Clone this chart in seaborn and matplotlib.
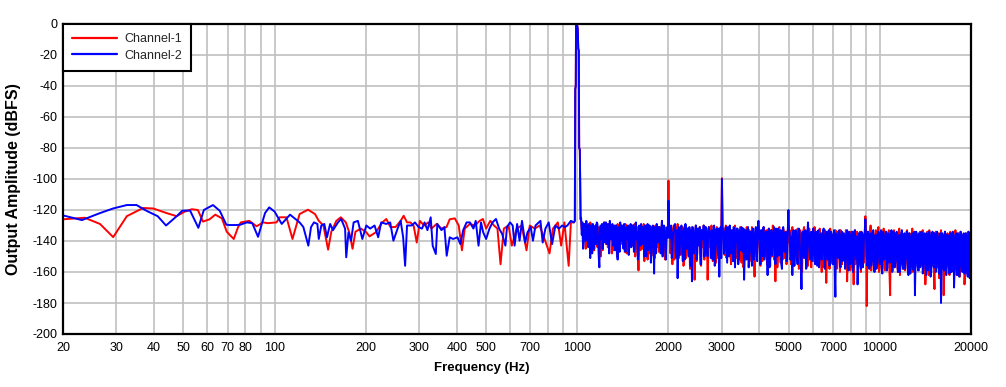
import numpy as np
import pandas as pd
import matplotlib
matplotlib.use("Agg")
import matplotlib.pyplot as plt
import seaborn as sns

# ---------------- data ----------------
# Channel-1 (red), low/mid frequency part: (Hz, dBFS)
ch1_low_freq = [20, 23.6, 26.5, 29.3, 32.5, 36.8, 39.7, 44, 47.5, 50.5, 53.3, 55.8, 58, 61, 63.7,
                67, 69.5, 73.3, 75.8, 77.4, 82.5, 87.2, 91.7, 95, 101.5, 104, 109.5, 114.6, 121,
                129, 136, 140, 145, 150.3, 154, 160, 165.5, 172, 176.5, 181, 185, 193, 201, 206,
                216, 227, 234, 241.5, 251, 261, 267, 274, 281, 288, 295, 302, 312, 322, 330, 343,
                356, 370, 379, 394, 406, 416, 425, 442, 459, 476, 488, 500, 516, 531, 545, 558,
                572, 593, 608, 631, 655, 680, 697, 724, 751, 780, 810, 831, 863, 885, 907, 937,
                953, 975]
ch1_low_db = [-126, -125, -129, -137.5, -124, -118.7, -119, -122, -124, -121, -119.5, -120, -127.5,
              -126, -123, -125.4, -134, -138.7, -131, -128, -127, -130.5, -128, -128.5, -128,
              -124.7, -124.7, -138.7, -122.6, -119.8, -122.6, -127, -130, -145.6, -134, -127,
              -124.7, -128, -134.4, -145, -134, -132, -134.4, -137, -134.4, -128, -125.8, -131,
              -131, -127, -123.7, -128, -128, -130, -141, -127, -130, -128, -132, -129, -132,
              -131, -126, -125.4, -130, -146, -132, -129, -130, -127, -125.8, -132, -127, -130,
              -132, -155, -132, -130, -143, -132, -130, -146, -130, -132, -130, -138.7, -148,
              -132, -128, -143, -128, -156, -128, -128]

# Channel-2 (blue), low/mid frequency part
ch2_low_freq = [20, 23.1, 26.5, 29.3, 32.5, 35, 37.9, 41.1, 43.8, 47.5, 49.6, 52.6, 56, 58.4, 62.6,
                65.9, 69.3, 71, 74.5, 77, 81, 84.4, 88.2, 93, 96, 100, 105.6, 112.5, 121, 124.5,
                129.3, 132, 135, 138.5, 140, 142.7, 146, 149, 152.6, 156, 162, 166, 171, 172.5,
                175.5, 179, 182.5, 188.5, 195, 201, 207, 214, 220, 225, 234, 241, 247, 255, 261,
                266, 270, 274, 284, 291, 299, 307, 313, 320, 328, 333, 341, 345, 356, 364, 370.5,
                379, 389, 402, 411, 420, 431, 442, 454, 462, 472, 481, 489, 500, 513, 525, 539,
                552, 565, 579, 586, 600, 612, 621, 633, 645, 657, 673, 685, 702, 714, 728, 756,
                769, 785, 805, 826, 847, 870, 892, 911, 928, 953, 975]
ch2_low_db = [-123.5, -126.5, -122, -119, -116.8, -116.8, -120.7, -124, -130, -124, -120.4, -120.4,
              -131.5, -120, -116.8, -120.5, -129.5, -129.7, -129.7, -129.5, -128, -128.5, -137.3,
              -122, -118.3, -121, -129, -123, -128, -131, -143, -131, -128, -129, -138.7, -130,
              -129, -137.6, -129, -133, -128, -125.8, -132, -150.5, -134.4, -139.8, -128, -127,
              -138.7, -130, -132, -130, -137.6, -128, -129, -128, -139.8, -132, -127, -137.6, -156,
              -130, -130, -128, -131, -132, -128, -133, -124.7, -143, -148.4, -129, -133, -131,
              -149.5, -137.6, -138.7, -137.6, -142, -133, -128, -128, -132, -127, -143, -128,
              -134.4, -138.7, -132, -128, -125.8, -132, -135.5, -143, -131, -128, -130, -143, -129,
              -139.8, -127, -141, -134.4, -131, -139.8, -130, -127, -141, -132, -128, -142, -130,
              -132, -130, -131, -130, -127, -128]

# 1 kHz test tone
peak_freq = [982, 985, 989, 991, 995, 1000, 1004, 1008, 1012, 1015, 1020, 1026]
ch1_peak_db = [-127, -42, -40, -1.2, -0.5, -1.0, -3, -16, -17, -80, -81, -126]
ch2_peak_db = [-127, -42, -40, -1.2, -0.5, -1.0, -3, -16, -17, -80, -81, -126]

# Noise floor above the tone, 1030 Hz .. 20 kHz (log-spaced bins, even bins)
ch1_high_db = [
    -127, -131, -139, -129, -134, -143, -130, -128, -137, -130, -146, -131, -129, -140, -132, -150, -130, -135, -128, -142,
    -131, -129, -138, -132, -130, -146, -131, -136, -129, -144, -132, -130, -141, -133, -129, -148, -131, -137, -130, -143,
    -132, -129, -147, -131, -159, -133, -130, -145, -129, -138, -132, -152, -130, -136, -131, -149, -133, -130, -144, -131,
    -139, -133, -127, -146, -131, -150, -132, -101, -137, -131, -155, -130, -145, -133, -129, -151, -132, -140, -131, -153,
    -130, -147, -132, -136, -150, -131, -143, -165, -130, -148, -133, -131, -156, -134, -130, -146, -132, -165, -131, -144,
    -130, -153, -132, -147, -131, -151, -133, -138, -99.5, -132, -149, -130, -145, -134, -131, -155, -133, -148, -130, -151,
    -133, -146, -131, -154, -132, -149, -134, -131, -150, -133, -147, -131, -152, -163, -132, -148, -130, -145, -134, -153,
    -131, -150, -133, -147, -132, -156, -134, -130, -152, -166, -133, -148, -131, -154, -135, -132, -151, -134, -149, -130,
    -133, -155, -131, -150, -134, -147, -132, -158, -133, -151, -135, -131, -149, -134, -156, -132, -150, -135, -153, -131,
    -148, -134, -155, -132, -151, -135, -157, -133, -167, -134, -150, -132, -154, -136, -148, -133, -158, -134, -152, -133,
    -155, -135, -150, -133, -166, -136, -153, -134, -157, -168, -133, -151, -135, -156, -134, -149, -136, -154, -124, -182,
    -134, -155, -130, -152, -135, -158, -133, -150, -131, -157, -134, -153, -132, -159, -135, -151, -133, -175, -134, -156,
    -133, -154, -135, -160, -132, -151, -134, -158, -136, -153, -133, -161, -135, -155, -132, -157, -134, -152, -136, -159,
    -134, -156, -133, -160, -168, -135, -154, -133, -159, -136, -152, -171, -134, -157, -135, -161, -133, -155, -175, -134,
    -158, -135, -153, -134, -160, -136, -156, -133, -162, -135, -157, -134, -159, -136, -168, -135, -161, -134, -157, -135,
]
# ... and the bins lying between them (odd bins)
ch1_high_db_odd = [
    -133, -140, -131, -145, -130, -136, -142, -129, -147, -133, -138, -130, -144, -131, -139, -133, -146, -129, -135, -131,
    -144, -131, -135, -148, -132, -139, -130, -150, -133, -137, -142, -131, -134, -147, -130, -138, -145, -132, -140, -130,
    -137, -150, -132, -140, -135, -146, -131, -138, -153, -130, -143, -133, -148, -131, -140, -134, -151, -132, -137, -147,
    -131, -144, -136, -133, -152, -135, -132, -134, -148, -134, -139, -152, -131, -146, -136, -133, -149, -131, -156, -134,
    -151, -133, -142, -158, -132, -147, -135, -140, -153, -132, -137, -149, -133, -144, -152, -131, -140, -150, -135, -132,
    -148, -133, -140, -154, -134, -137, -150, -131, -135, -146, -133, -151, -132, -140, -148, -134, -137, -152, -133, -144,
    -139, -152, -134, -143, -157, -133, -141, -151, -135, -137, -153, -134, -145, -136, -150, -132, -140, -156, -133, -138,
    -147, -134, -155, -136, -143, -133, -150, -138, -135, -140, -157, -134, -146, -137, -152, -134, -143, -155, -133, -141,
    -148, -136, -139, -156, -134, -152, -137, -144, -135, -160, -133, -147, -138, -152, -135, -141, -157, -134, -146, -137,
    -139, -153, -136, -147, -160, -134, -145, -138, -152, -136, -158, -135, -144, -139, -155, -134, -147, -137, -160, -135,
    -146, -138, -157, -135, -150, -137, -159, -136, -145, -139, -155, -134, -148, -138, -160, -135, -151, -137, -134, -150,
    -145, -138, -159, -134, -148, -137, -155, -136, -160, -135, -150, -138, -157, -134, -146, -137, -161, -136, -152, -138,
    -150, -137, -157, -135, -162, -138, -149, -136, -159, -134, -155, -138, -152, -136, -160, -135, -147, -138, -157, -136,
    -151, -138, -158, -136, -155, -134, -162, -137, -150, -139, -157, -135, -153, -138, -164, -136, -150, -137, -159, -137,
    -149, -138, -162, -135, -154, -137, -159, -136, -151, -138, -163, -135, -155, -137, -160, -136, -152, -138, -162,
]
ch2_high_db = [
    -125, -128, -141, -130, -127, -136, -129, -151, -131, -129, -145, -130, -128, -138, -157, -130, -129, -137, -131, -128,
    -142, -130, -127, -139, -129, -133, -146, -130, -152, -131, -128, -140, -132, -129, -147, -131, -130, -143, -129, -136,
    -130, -145, -128, -134, -149, -131, -129, -142, -133, -130, -150, -129, -137, -131, -146, -130, -161, -132, -129, -141,
    -131, -148, -127, -139, -132, -152, -131, -114, -138, -130, -147, -133, -129, -151, -164, -131, -140, -130, -153, -132,
    -129, -145, -134, -131, -156, -166, -132, -143, -130, -149, -133, -131, -155, -135, -130, -147, -132, -150, -131, -138,
    -133, -152, -130, -144, -132, -149, -163, -131, -100, -134, -146, -131, -154, -133, -130, -148, -135, -131, -157, -133,
    -132, -150, -134, -131, -147, -165, -133, -152, -131, -145, -134, -156, -132, -148, -131, -153, -127, -141, -133, -150,
    -131, -146, -134, -162, -132, -151, -133, -144, -131, -155, -135, -132, -149, -133, -158, -131, -147, -134, -152, -120,
    -135, -150, -162, -133, -148, -134, -155, -132, -149, -171, -134, -151, -133, -157, -128, -146, -135, -153, -132, -149,
    -134, -156, -133, -150, -135, -148, -132, -158, -134, -152, -133, -147, -135, -155, -133, -176, -136, -151, -133, -157,
    -134, -150, -136, -154, -133, -159, -135, -149, -134, -156, -133, -152, -168, -135, -153, -134, -157, -136, -126, -150,
    -134, -158, -135, -152, -133, -160, -136, -151, -134, -155, -133, -161, -135, -149, -134, -157, -136, -153, -133, -159,
    -135, -152, -134, -160, -136, -155, -133, -158, -135, -150, -134, -162, -136, -154, -135, -159, -175, -134, -156, -135,
    -157, -134, -161, -136, -153, -135, -159, -134, -163, -136, -155, -135, -160, -134, -157, -136, -180, -135, -158, -134,
    -162, -136, -156, -135, -160, -134, -170, -136, -158, -135, -163, -134, -157, -136, -161, -135, -159, -134, -164, -136,
]
ch2_high_db_odd = [
    -136, -145, -129, -140, -131, -144, -133, -130, -148, -135, -131, -142, -129, -150, -134, -139, -145, -128, -141, -133,
    -129, -148, -134, -131, -143, -130, -137, -144, -132, -147, -134, -130, -145, -136, -133, -139, -149, -132, -144, -130,
    -147, -131, -139, -152, -130, -143, -135, -131, -150, -137, -132, -146, -130, -154, -133, -141, -131, -148, -136, -131,
    -142, -133, -150, -130, -145, -134, -138, -132, -131, -151, -135, -130, -147, -133, -141, -149, -131, -144, -134, -152,
    -136, -132, -150, -141, -133, -131, -148, -135, -152, -132, -143, -155, -133, -139, -150, -131, -145, -134, -137, -151,
    -145, -131, -156, -133, -140, -132, -136, -151, -132, -148, -134, -143, -131, -150, -136, -133, -153, -135, -145, -132,
    -155, -133, -146, -135, -132, -150, -137, -133, -157, -134, -147, -133, -152, -136, -144, -132, -134, -155, -137, -132,
    -152, -135, -141, -133, -157, -134, -149, -136, -143, -132, -150, -137, -134, -155, -133, -146, -135, -153, -133, -134,
    -152, -137, -134, -156, -133, -149, -138, -134, -153, -136, -147, -134, -158, -135, -137, -152, -134, -148, -136, -155,
    -146, -134, -157, -136, -152, -134, -150, -137, -148, -135, -156, -134, -151, -137, -159, -135, -149, -134, -155, -137,
    -153, -135, -158, -137, -150, -134, -155, -136, -160, -134, -149, -137, -154, -135, -158, -136, -151, -134, -137, -156,
    -151, -137, -156, -135, -153, -137, -158, -135, -150, -136, -157, -134, -152, -137, -159, -135, -154, -136, -160, -134,
    -157, -136, -153, -137, -160, -135, -155, -137, -158, -136, -152, -135, -161, -137, -156, -134, -152, -137, -159, -136,
    -154, -137, -158, -135, -162, -136, -155, -137, -160, -134, -157, -136, -153, -138, -161, -135, -156, -137, -159, -136,
    -155, -137, -161, -135, -158, -137, -156, -135, -162, -136, -154, -137, -160, -135, -158, -137, -163, -135, -157,
]

grid_freqs = [20, 30, 40, 50, 60, 70, 80, 90, 100, 200, 300, 400, 500, 600, 700, 800, 900,
              1000, 2000, 3000, 4000, 5000, 6000, 7000, 8000, 9000, 10000, 20000]
labeled_freqs = [20, 30, 40, 50, 60, 70, 80, 100, 200, 300, 400, 500, 700, 1000, 2000, 3000,
                 5000, 7000, 10000, 20000]
y_ticks = list(range(-200, 1, 20))


# ---------------- build tables ----------------
def merge_bins(even, odd):
    out = np.empty(len(even) + len(odd))
    out[0::2] = even
    out[1::2] = odd
    return out


ch1_high = merge_bins(ch1_high_db, ch1_high_db_odd)
ch2_high = merge_bins(ch2_high_db, ch2_high_db_odd)
high_freq = np.geomspace(1030, 20000, len(ch1_high))

df1 = pd.DataFrame({"f": np.concatenate([ch1_low_freq, peak_freq, high_freq]),
                    "db": np.concatenate([ch1_low_db, ch1_peak_db, ch1_high])})
df2 = pd.DataFrame({"f": np.concatenate([ch2_low_freq, peak_freq, high_freq]),
                    "db": np.concatenate([ch2_low_db, ch2_peak_db, ch2_high])})

# ---------------- plot ----------------
sns.set_style("white")
plt.rcParams["font.family"] = ["Liberation Sans", "DejaVu Sans"]

fig = plt.figure(figsize=(10.06, 3.87), dpi=100)
ax = fig.add_axes([63 / 1006, 53 / 387, 908 / 1006, 310 / 387])

sns.lineplot(data=df1, x="f", y="db", ax=ax, color="#FF0000", lw=1.4, sort=False,
             estimator=None, label="Channel-1")
sns.lineplot(data=df2, x="f", y="db", ax=ax, color="#0000FF", lw=1.4, sort=False,
             estimator=None, label="Channel-2")

ax.set_xscale("log")
ax.set_xlim(20, 20000)
ax.set_ylim(-200, 0)
ax.set_xticks(grid_freqs)
ax.set_xticklabels([str(f) if f in labeled_freqs else "" for f in grid_freqs])
ax.xaxis.set_minor_locator(matplotlib.ticker.NullLocator())
ax.set_yticks(y_ticks)
ax.set_yticklabels([str(v) for v in y_ticks])
ax.grid(True, color="#C0C0C0", lw=1.2)
ax.set_axisbelow(True)
ax.tick_params(axis="both", length=0, labelsize=9, colors="black")
ax.tick_params(axis="x", pad=6)
ax.tick_params(axis="y", pad=4)
for s in ax.spines.values():
    s.set_color("black")
    s.set_linewidth(1.6)

ax.set_xlabel("Frequency (Hz)", fontsize=9.5, fontweight="bold", color="black")
ax.set_ylabel("Output Amplitude (dBFS)", fontsize=11.5, fontweight="bold", color="black",
              va="center")
ax.xaxis.set_label_coords(0.4615, -0.09)
ax.yaxis.set_label_coords(-0.0545, 0.5)

leg = ax.legend(loc="upper left", borderaxespad=0, fontsize=9, frameon=True, fancybox=False,
                handlelength=3.6, handletextpad=0.55, borderpad=0.75, labelspacing=0.35)
leg.get_frame().set_edgecolor("black")
leg.get_frame().set_linewidth(1.5)
leg.get_frame().set_alpha(1)
for h in leg.get_lines():
    h.set_linewidth(1.6)

fig.savefig("out.png", dpi=100)
